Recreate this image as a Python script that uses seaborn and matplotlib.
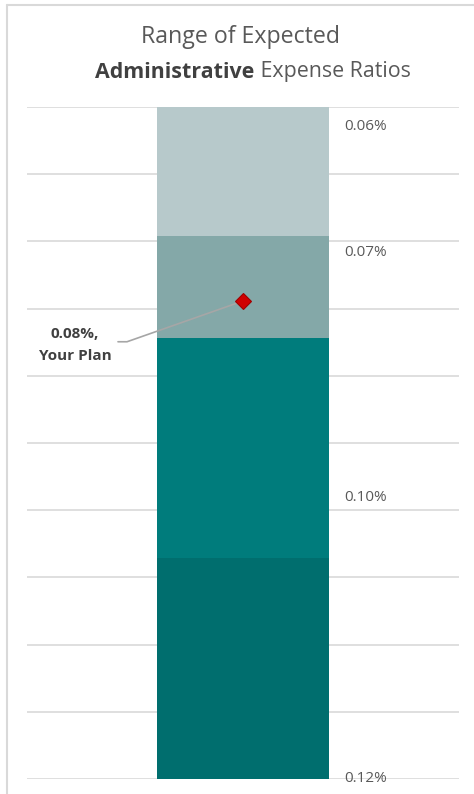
import numpy as np
import pandas as pd
import matplotlib
matplotlib.use('Agg')
import matplotlib.pyplot as plt
from matplotlib.lines import Line2D
import seaborn as sns

# Data: stacked range bands (boundary values, %)
bounds = [0.06, 0.0715, 0.0806, 0.1003, 0.12]
band_colors = ['#B7C9CB', '#84A8A8', '#007C7C', '#006E6E']
label_texts = ['0.06%', '0.07%', '0.10%', '0.12%']
label_at = [0.06, 0.0715, 0.1003, 0.12]
label_shift = [-20, -17, 61, 0]   # pixel offsets (up is positive)
plan_value = 0.0773
plan_label = '0.08%,\nYour Plan'

sns.set_theme(style='white')
plt.rcParams['font.family'] = ['Open Sans', 'DejaVu Sans']

W, H = 474, 794
fig = plt.figure(figsize=(W / 100, H / 100), dpi=100)
fig.patch.set_facecolor('white')
ax = fig.add_axes([27 / W, (H - 779) / H, 432 / W, 672 / H])

# chart border
fig.add_artist(Line2D([7 / W, 7 / W], [0, (H - 5) / H], color='#D9D9D9', lw=1.5))
fig.add_artist(Line2D([7 / W, 1], [(H - 5) / H, (H - 5) / H], color='#D9D9D9', lw=1.5))

df = pd.DataFrame({'cat': ['plan'] * 4,
                   'height': np.diff(bounds),
                   'bottom': bounds[:-1]})
for i, row in df.iterrows():
    sns.barplot(x=[row['cat']], y=[row['height']], bottom=row['bottom'],
                color=band_colors[i], width=0.4, ax=ax, zorder=2,
                saturation=1, linewidth=0)

ax.set_ylim(bounds[-1], bounds[0])
ax.set_xlim(-0.5, 0.5)
ax.set_yticks(np.linspace(bounds[0], bounds[-1], 11))
ax.yaxis.grid(True, color='#D9D9D9', lw=1.2, zorder=0)
ax.set_axisbelow(True)
ax.set_yticklabels([])
ax.set_xticks([])
ax.set_xlabel('')
ax.set_ylabel('')
ax.tick_params(length=0)
for s in ax.spines.values():
    s.set_visible(False)
ax.set_facecolor('none')

# band labels
for txt, v, dy in zip(label_texts, label_at, label_shift):
    ax.annotate(txt, xy=(0.2, v), xytext=(15, dy), textcoords='offset pixels',
                ha='left', va='center', fontsize=11, color='#595959',
                annotation_clip=False)

# your plan marker
ax.plot([0], [plan_value], marker='D', markersize=8.5, color='#D00000',
        markeredgecolor='#A00000', markeredgewidth=0.8, zorder=5)
px, py = ax.transData.transform((0, plan_value))
pts = np.array([[px - 125, py - 41], [px - 116, py - 41], [px - 5, py - 2]])
data_pts = ax.transData.inverted().transform(pts)
ax.plot(data_pts[:, 0], data_pts[:, 1], color='#A6A6A6', lw=1.2, zorder=4,
        clip_on=False)
ax.annotate(plan_label, xy=(0, plan_value), xytext=(-168, -44),
            textcoords='offset pixels', ha='center', va='center',
            fontsize=11, fontweight='bold', color='#404040',
            linespacing=1.75, annotation_clip=False)

# title
fig.text(240 / W, 1 - 37 / H, 'Range of Expected', ha='center', va='center',
         fontsize=16.7, color='#595959')
t1 = fig.text(0, 1 - 72 / H, 'Administrative', ha='left', va='center',
              fontsize=15.4, fontweight='bold', color='#404040')
t2 = fig.text(0, 1 - 72 / H, ' Expense Ratios', ha='left', va='center',
              fontsize=15.4, color='#595959')
fig.canvas.draw()
r = fig.canvas.get_renderer()
w1 = t1.get_window_extent(r).width
w2 = t2.get_window_extent(r).width
x0 = 253 - (w1 + w2) / 2
t1.set_x(x0 / W)
t2.set_x((x0 + w1) / W)

fig.savefig('out.png', dpi=100)
